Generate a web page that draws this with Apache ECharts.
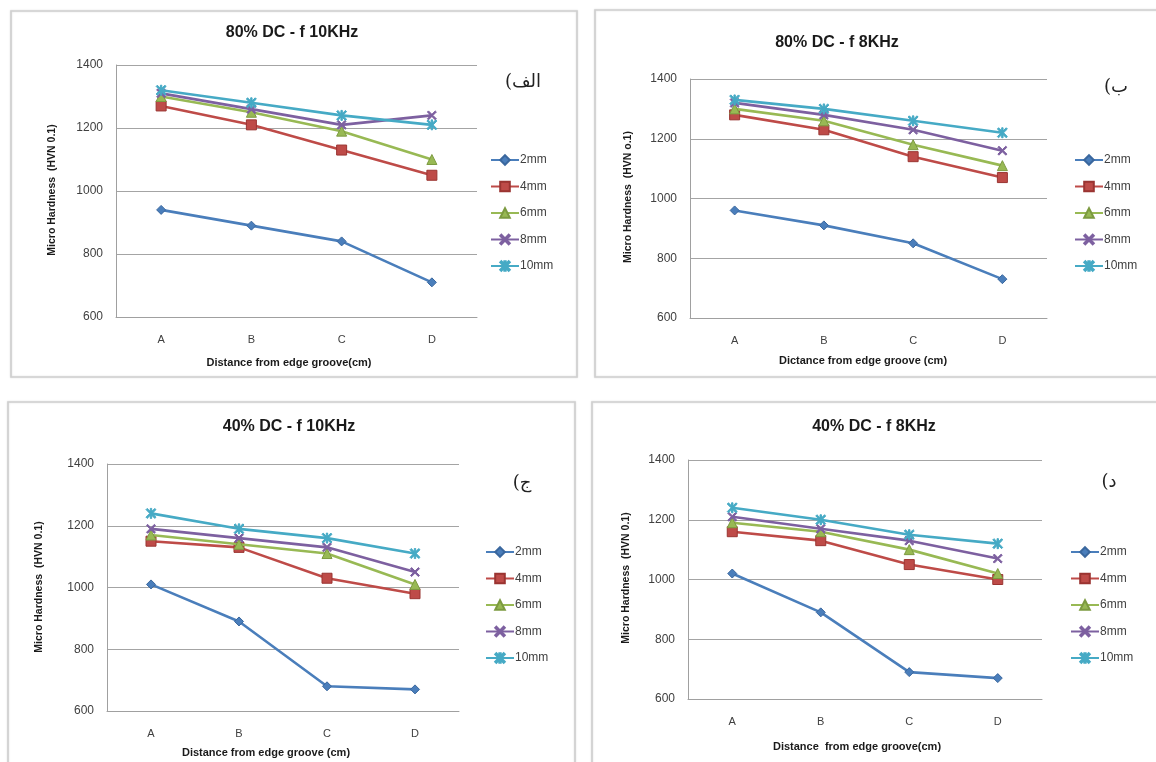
<!DOCTYPE html>
<html>
<head>
<meta charset="utf-8">
<title>Micro Hardness vs. distance from edge groove</title>
<script src="https://cdn.jsdelivr.net/npm/echarts@6/dist/echarts.min.js"></script>
<style>
  html, body { margin: 0; padding: 0; background: #ffffff; }
  #chart { width: 1156px; height: 762px; }
</style>
</head>
<body>
<div id="chart"></div>
<script>
// ---- data ----
const categories = ['A', 'B', 'C', 'D'];
const seriesNames = ['2mm', '4mm', '6mm', '8mm', '10mm'];
const yMin = 600;
const yMax = 1400;
const yStep = 200;

// 80% DC, f = 10 kHz  (rows: 2, 4, 6, 8, 10 mm)
const dc80f10 = [
  [940, 890, 840, 710],
  [1270, 1210, 1130, 1050],
  [1300, 1250, 1190, 1100],
  [1310, 1260, 1210, 1240],
  [1320, 1280, 1240, 1210]
];
// 80% DC, f = 8 kHz
const dc80f8 = [
  [960, 910, 850, 730],
  [1280, 1230, 1140, 1070],
  [1300, 1260, 1180, 1110],
  [1320, 1280, 1230, 1160],
  [1330, 1300, 1260, 1220]
];
// 40% DC, f = 10 kHz
const dc40f10 = [
  [1010, 890, 680, 670],
  [1150, 1130, 1030, 980],
  [1170, 1140, 1110, 1010],
  [1190, 1160, 1130, 1050],
  [1240, 1190, 1160, 1110]
];
// 40% DC, f = 8 kHz
const dc40f8 = [
  [1020, 890, 690, 670],
  [1160, 1130, 1050, 1000],
  [1190, 1160, 1100, 1020],
  [1210, 1170, 1130, 1070],
  [1240, 1200, 1150, 1120]
];

const panelTitles = ['80% DC - f 10KHz', '80% DC - f 8KHz', '40% DC - f 10KHz', '40% DC - f 8KHz'];
const panelLetters = ['الف)\u200F', 'ب)\u200F', 'ج)\u200F', 'د)\u200F'];
const xTitles = [
  'Distance from edge groove(cm)',
  'Dictance from edge groove (cm)',
  'Distance from edge groove (cm)',
  'Distance  from edge groove(cm)'
];
const yTitles = [
  'Micro Hardness  (HVN 0.1)',
  'Micro Hardness  (HVN o.1)',
  'Micro Hardness  (HVN 0.1)',
  'Micro Hardness  (HVN 0.1)'
];
const panelData = [dc80f10, dc80f8, dc40f10, dc40f8];

// ---- layout & styling ----
const layouts = [
  { box: [11, 11, 566, 366], grid: { left: 116, top: 65, width: 361, height: 252 },
    title: [292, 33], letter: [523, 82], legend: [490, 154], yTitle: [52, 190], xTitle: [289, 363] },
  { box: [595, 10, 575, 367], grid: { left: 690, top: 79, width: 357, height: 239 },
    title: [837, 43], letter: [1116, 87], legend: [1074, 154], yTitle: [628, 197], xTitle: [863, 361] },
  { box: [8, 402, 567, 380], grid: { left: 107, top: 464, width: 352, height: 247 },
    title: [289, 427], letter: [522, 483], legend: [485, 546], yTitle: [39, 587], xTitle: [266, 753] },
  { box: [592, 402, 580, 380], grid: { left: 688, top: 460, width: 354, height: 239 },
    title: [874, 427], letter: [1109, 482], legend: [1070, 546], yTitle: [626, 578], xTitle: [857, 747] }
];

const xMark = 'path://M0,1.2L1.2,0L5,3.8L8.8,0L10,1.2L6.2,5L10,8.8L8.8,10L5,6.2L1.2,10L0,8.8L3.8,5Z';
const starMark = xMark + 'M4.3,0L5.7,0L5.7,10L4.3,10Z';

const seriesStyles = [
  { color: '#4A7EBB', border: '#3A679E', symbol: 'diamond', size: 9 },
  { color: '#BE4B48', border: '#9A3431', symbol: 'rect', size: 10 },
  { color: '#98B954', border: '#7C9A40', symbol: 'triangle', size: 10 },
  { color: '#7D60A0', border: '#7D60A0', symbol: xMark, size: 9 },
  { color: '#46AAC5', border: '#46AAC5', symbol: starMark, size: 10 }
];

const FONT = 'Liberation Sans, Arial, sans-serif';

const grids = [], xAxes = [], yAxes = [], legends = [], series = [], graphics = [];

layouts.forEach((L, p) => {
  grids.push(Object.assign({ containLabel: false }, L.grid));

  xAxes.push({
    type: 'category', gridIndex: p, data: categories, boundaryGap: true,
    axisLine: { show: true, lineStyle: { color: '#a0a0a0', width: 1 } },
    axisTick: { show: false },
    axisLabel: { margin: 17, fontFamily: FONT, fontSize: 11, color: '#404040' }
  });

  yAxes.push({
    type: 'value', gridIndex: p, min: yMin, max: yMax, interval: yStep,
    axisLine: { show: true, lineStyle: { color: '#a0a0a0', width: 1 } },
    axisTick: { show: false },
    splitLine: { show: true, lineStyle: { color: '#a4a4a4', width: 1 } },
    axisLabel: { margin: 13, fontFamily: FONT, fontSize: 12, color: '#404040',
                 formatter: v => String(v) }
  });

  legends.push({
    orient: 'vertical', left: L.legend[0], top: L.legend[1], padding: 0,
    itemWidth: 28, itemHeight: 12, itemGap: 14.5,
    data: seriesNames,
    textStyle: { fontFamily: FONT, fontSize: 12, color: '#404040', padding: [0, 0, 0, -4] },
    selectedMode: false
  });

  panelData[p].forEach((vals, s) => {
    const st = seriesStyles[s];
    series.push({
      type: 'line', name: seriesNames[s], xAxisIndex: p, yAxisIndex: p,
      data: vals,
      symbol: st.symbol, symbolSize: st.size, showAllSymbol: true,
      lineStyle: { color: st.color, width: 2.6 },
      itemStyle: { color: st.color, borderColor: st.border, borderWidth: 1 },
      emphasis: { disabled: true },
      z: 2 + s
    });
  });

  // panel frame
  graphics.push({
    type: 'rect', silent: true, z: 0,
    shape: { x: L.box[0], y: L.box[1], width: L.box[2], height: L.box[3] },
    style: { fill: 'none', stroke: '#cfcfcf', lineWidth: 1.6, shadowBlur: 2, shadowColor: 'rgba(0,0,0,0.15)' }
  });
  // chart title
  graphics.push({
    type: 'text', x: L.title[0], y: L.title[1], silent: true,
    style: { text: panelTitles[p], font: 'bold 16px ' + FONT, fill: '#1a1a1a',
             textAlign: 'center', textVerticalAlign: 'middle', align: 'center', verticalAlign: 'middle' }
  });
  // panel letter
  graphics.push({
    type: 'text', x: L.letter[0], y: L.letter[1], silent: true,
    style: { text: panelLetters[p], font: '18px DejaVu Serif, DejaVu Sans, serif', fill: '#222222',
             textAlign: 'center', textVerticalAlign: 'middle', align: 'center', verticalAlign: 'middle' }
  });
  // axis titles
  graphics.push({
    type: 'text', x: L.xTitle[0], y: L.xTitle[1], silent: true,
    style: { text: xTitles[p], font: 'bold 11px ' + FONT, fill: '#1a1a1a',
             textAlign: 'center', textVerticalAlign: 'middle', align: 'center', verticalAlign: 'middle' }
  });
  graphics.push({
    type: 'text', x: L.yTitle[0], y: L.yTitle[1], rotation: Math.PI / 2, silent: true,
    style: { text: yTitles[p], font: 'bold 10.5px ' + FONT, fill: '#1a1a1a',
             textAlign: 'center', textVerticalAlign: 'middle', align: 'center', verticalAlign: 'middle' }
  });
});

const chart = echarts.init(document.getElementById('chart'), null, { renderer: 'canvas' });
chart.setOption({
  animation: false,
  backgroundColor: '#ffffff',
  grid: grids,
  xAxis: xAxes,
  yAxis: yAxes,
  legend: legends,
  series: series,
  graphic: graphics
});
</script>
</body>
</html>
